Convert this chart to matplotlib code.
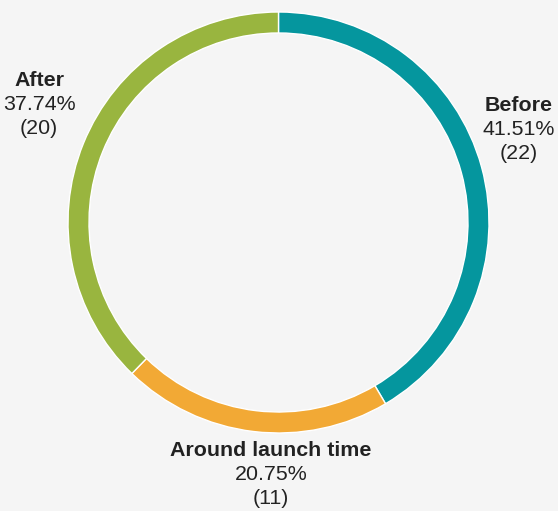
import matplotlib
matplotlib.use("Agg")
import matplotlib.pyplot as plt

plt.rcParams["font.family"] = ["Liberation Sans", "DejaVu Sans"]

categories = ["Before", "Around launch time", "After"]
counts = [22, 11, 20]
colors = ["#05969E", "#F2A935", "#99B53F"]

W, H = 558, 511
fig = plt.figure(figsize=(W / 100, H / 100), dpi=100, facecolor="#F5F5F5")
ax = fig.add_axes([0, 0, 1, 1])
ax.set_facecolor("#F5F5F5")

cx, cy, r = 278.5, H - 222.5, 210.5
ax.pie(counts, colors=colors, startangle=90, counterclock=False,
       center=(cx, cy), radius=r, frame=True,
       wedgeprops=dict(width=21, edgecolor="white", linewidth=1))
ax.set_xlim(0, W)
ax.set_ylim(0, H)
ax.set_aspect("equal")
ax.axis("off")

total = sum(counts)
label_pos = {
    "Before": (519, 105),
    "Around launch time": (271, 451),
    "After": (39, 80),
}
for name, n in zip(categories, counts):
    x, y = label_pos[name]
    pct = 100 * n / total
    ax.text(x, H - y, name, ha="center", va="center", fontsize=15.4,
            fontweight="bold", color="#222222")
    ax.text(x, H - y - 24, f"{pct:.2f}%", ha="center", va="center",
            fontsize=15.4, color="#222222")
    ax.text(x, H - y - 48, f"({n})", ha="center", va="center",
            fontsize=15.4, color="#222222")

fig.savefig("out.png", dpi=100, facecolor=fig.get_facecolor())
